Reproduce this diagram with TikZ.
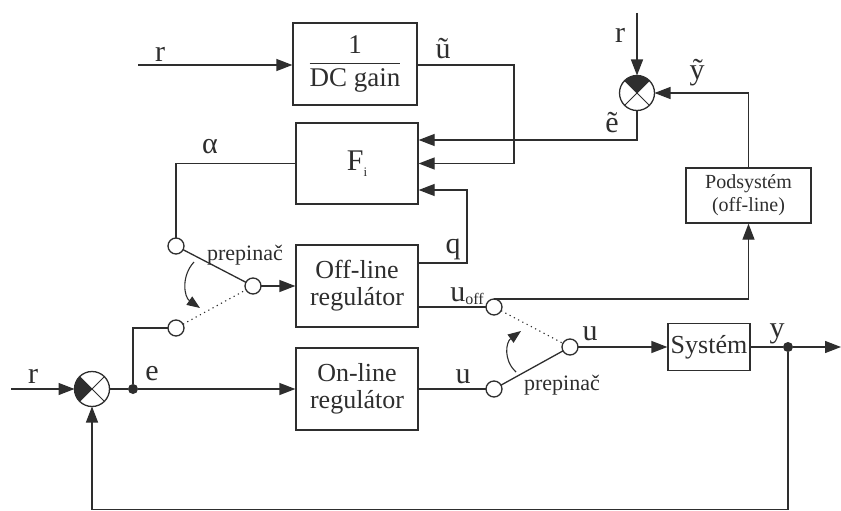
\documentclass[tikz,border=0pt]{standalone}
\usepackage{fontspec}
\setmainfont{Liberation Serif}
\usepackage{amsmath}
\usetikzlibrary{arrows.meta}
\definecolor{ink}{HTML}{2E2E2E}
\begin{document}
\begin{tikzpicture}[x=1pt,y=-1pt, line width=1.3pt, draw=ink, color=ink,
  >={Triangle[length=16pt,width=12pt]},
  blk/.style={draw, rectangle, inner sep=0pt, align=center, font=\fontsize{26}{28}\selectfont},
  lbl/.style={anchor=base, inner sep=0pt, font=\fontsize{30}{32}\selectfont},
  swlbl/.style={anchor=base, inner sep=0pt, font=\fontsize{22}{24}\selectfont},
  sumj/.style={draw, circle, minimum size=35pt, inner sep=0pt, outer sep=0pt, fill=white},
  swc/.style={draw, circle, minimum size=16pt, inner sep=0pt, outer sep=0pt, fill=white},
  jdot/.style={circle, fill=ink, minimum size=10pt, inner sep=0pt, outer sep=0pt},
  dotline/.style={line width=1.1pt, dash pattern=on 1.2pt off 3.6pt},
  curvearr/.style={line width=1.1pt, ->, >={Triangle[length=13pt,width=10pt]}}]
\useasboundingbox[fill=white] (0,0) rectangle (841,511);

% blocks
\node[blk, minimum width=124pt, minimum height=82pt, font=\fontsize{27}{29}\selectfont] (dc) at (355,64)
  {$\dfrac{\text{1}}{\text{DC gain}}$};
\node[blk, minimum width=122pt, minimum height=81pt, font=\fontsize{30}{32}\selectfont] (fi) at (357,163.5)
  {F\raisebox{-6pt}{\fontsize{13}{13}\selectfont i}};
\node[blk, minimum width=122pt, minimum height=82pt] (off) at (357,286) {Off-line\\[-1pt]regulátor};
\node[blk, minimum width=122pt, minimum height=82pt] (on) at (357,389) {On-line\\[-1pt]regulátor};
\node[blk, minimum width=82pt, minimum height=47pt] (sys) at (709,347) {Systém};
\node[blk, minimum width=125pt, minimum height=55pt, font=\fontsize{20}{23}\selectfont] (pod) at (748.5,195.5) {Podsystém\\(off-line)};

% summing junctions
\node[sumj] (s1) at (92,389) {};
\fill[ink] (s1.center) -- (s1.135) arc[start angle=135, end angle=225, radius=17.5pt] -- cycle;
\draw[line width=1pt] (s1.45) -- (s1.225) (s1.135) -- (s1.315);
\node[sumj] (s2) at (637,93) {};
\fill[ink] (s2.center) -- (s2.45) arc[start angle=45, end angle=135, radius=17.5pt] -- cycle;
\draw[line width=1pt] (s2.45) -- (s2.225) (s2.135) -- (s2.315);

% junction dots
\node[jdot] (j1) at (133,389) {};
\node[jdot] (j2) at (788,347) {};

% free ends
\coordinate (rin1) at (138,65);
\coordinate (rin2) at (637,13);
\coordinate (rin3) at (11,389);
\coordinate (yout) at (841,347);
\coordinate (ucor) at (514,120);
\coordinate (qcor) at (467,220);
\coordinate (fb) at (92,509.5);

% connectors
\draw[->] (rin1) -- (dc.west |- rin1);
\draw[->] (dc.east |- rin1) -| (ucor) |- (fi.east);
\draw[->] (rin2) -- (s2.north);
\draw[->] (pod.north) |- (s2.east);
\draw[->] (s2.south) |- ([yshift=23.5pt]fi.east);
\draw[->] ([yshift=23pt]off.east) -| (qcor) |- ([yshift=-26.5pt]fi.east);
\draw[->] (rin3) -- (s1.west);
\draw (s1.east) -- (j1);
\draw[->] (j1) -- (on.west);
\draw (sys.east) -- (j2);
\draw[->] (j2) -- (yout);
\draw[->] (j2) |- (fb) -- (s1.south);

% switch 1
\node[swc] (sw1a) at (176,246) {};
\node[swc] (sw1m) at (253,286) {};
\node[swc] (sw1b) at (176,328) {};
\draw (fi.west) -| (sw1a.north);
\draw (sw1a) -- (sw1m);
\draw[dotline] (sw1b) -- (sw1m);
\draw[->] (sw1m.east) -- (off.west |- sw1m);
\draw (sw1b.west) -| (j1);
\draw[curvearr] (194,262) .. controls (181,276) and (184,297) .. (200,308);

% switch 2
\node[swc] (sw2a) at (494,307) {};
\node[swc] (sw2m) at (570,347) {};
\node[swc] (sw2b) at (494,389) {};
\draw ([yshift=-21pt]off.east) -- (sw2a.west);
\draw[->] (sw2a.north) -- (sw2a.north -| pod.south) -- (pod.south);
\draw (on.east) -- (sw2b.west);
\draw (sw2b) -- (sw2m);
\draw[dotline] (sw2a) -- (sw2m);
\draw[->] (sw2m.east) -- (sys.west);
\draw[curvearr] (516,372) .. controls (503,360) and (506,342) .. (521,331);

% labels
\node[lbl] (lr1) at (160,62) {r};
\node[lbl] (lu1) at (443,59) {ũ};
\node[lbl] (lr2) at (620,43) {r};
\node[lbl] (ly1) at (697,80) {ỹ};
\node[lbl] (le1) at (612,132) {ẽ};
\node[lbl] (lal) at (210,153) {α};
\node[lbl] (lq) at (453,253) {q};
\node[swlbl] (lp1) at (245,260) {prepinač};
\node[lbl] (le) at (152,380) {e};
\node[lbl] (lr3) at (33,383) {r};
\node[lbl] (luoff) at (467,301) {u\raisebox{-3pt}{\fontsize{16}{16}\selectfont off}};
\node[lbl] (lu2) at (590,340) {u};
\node[lbl] (lu3) at (463,383) {u};
\node[swlbl] (lp2) at (562,390) {prepinač};
\node[lbl] (ly) at (777,337) {y};
\end{tikzpicture}
\end{document}
